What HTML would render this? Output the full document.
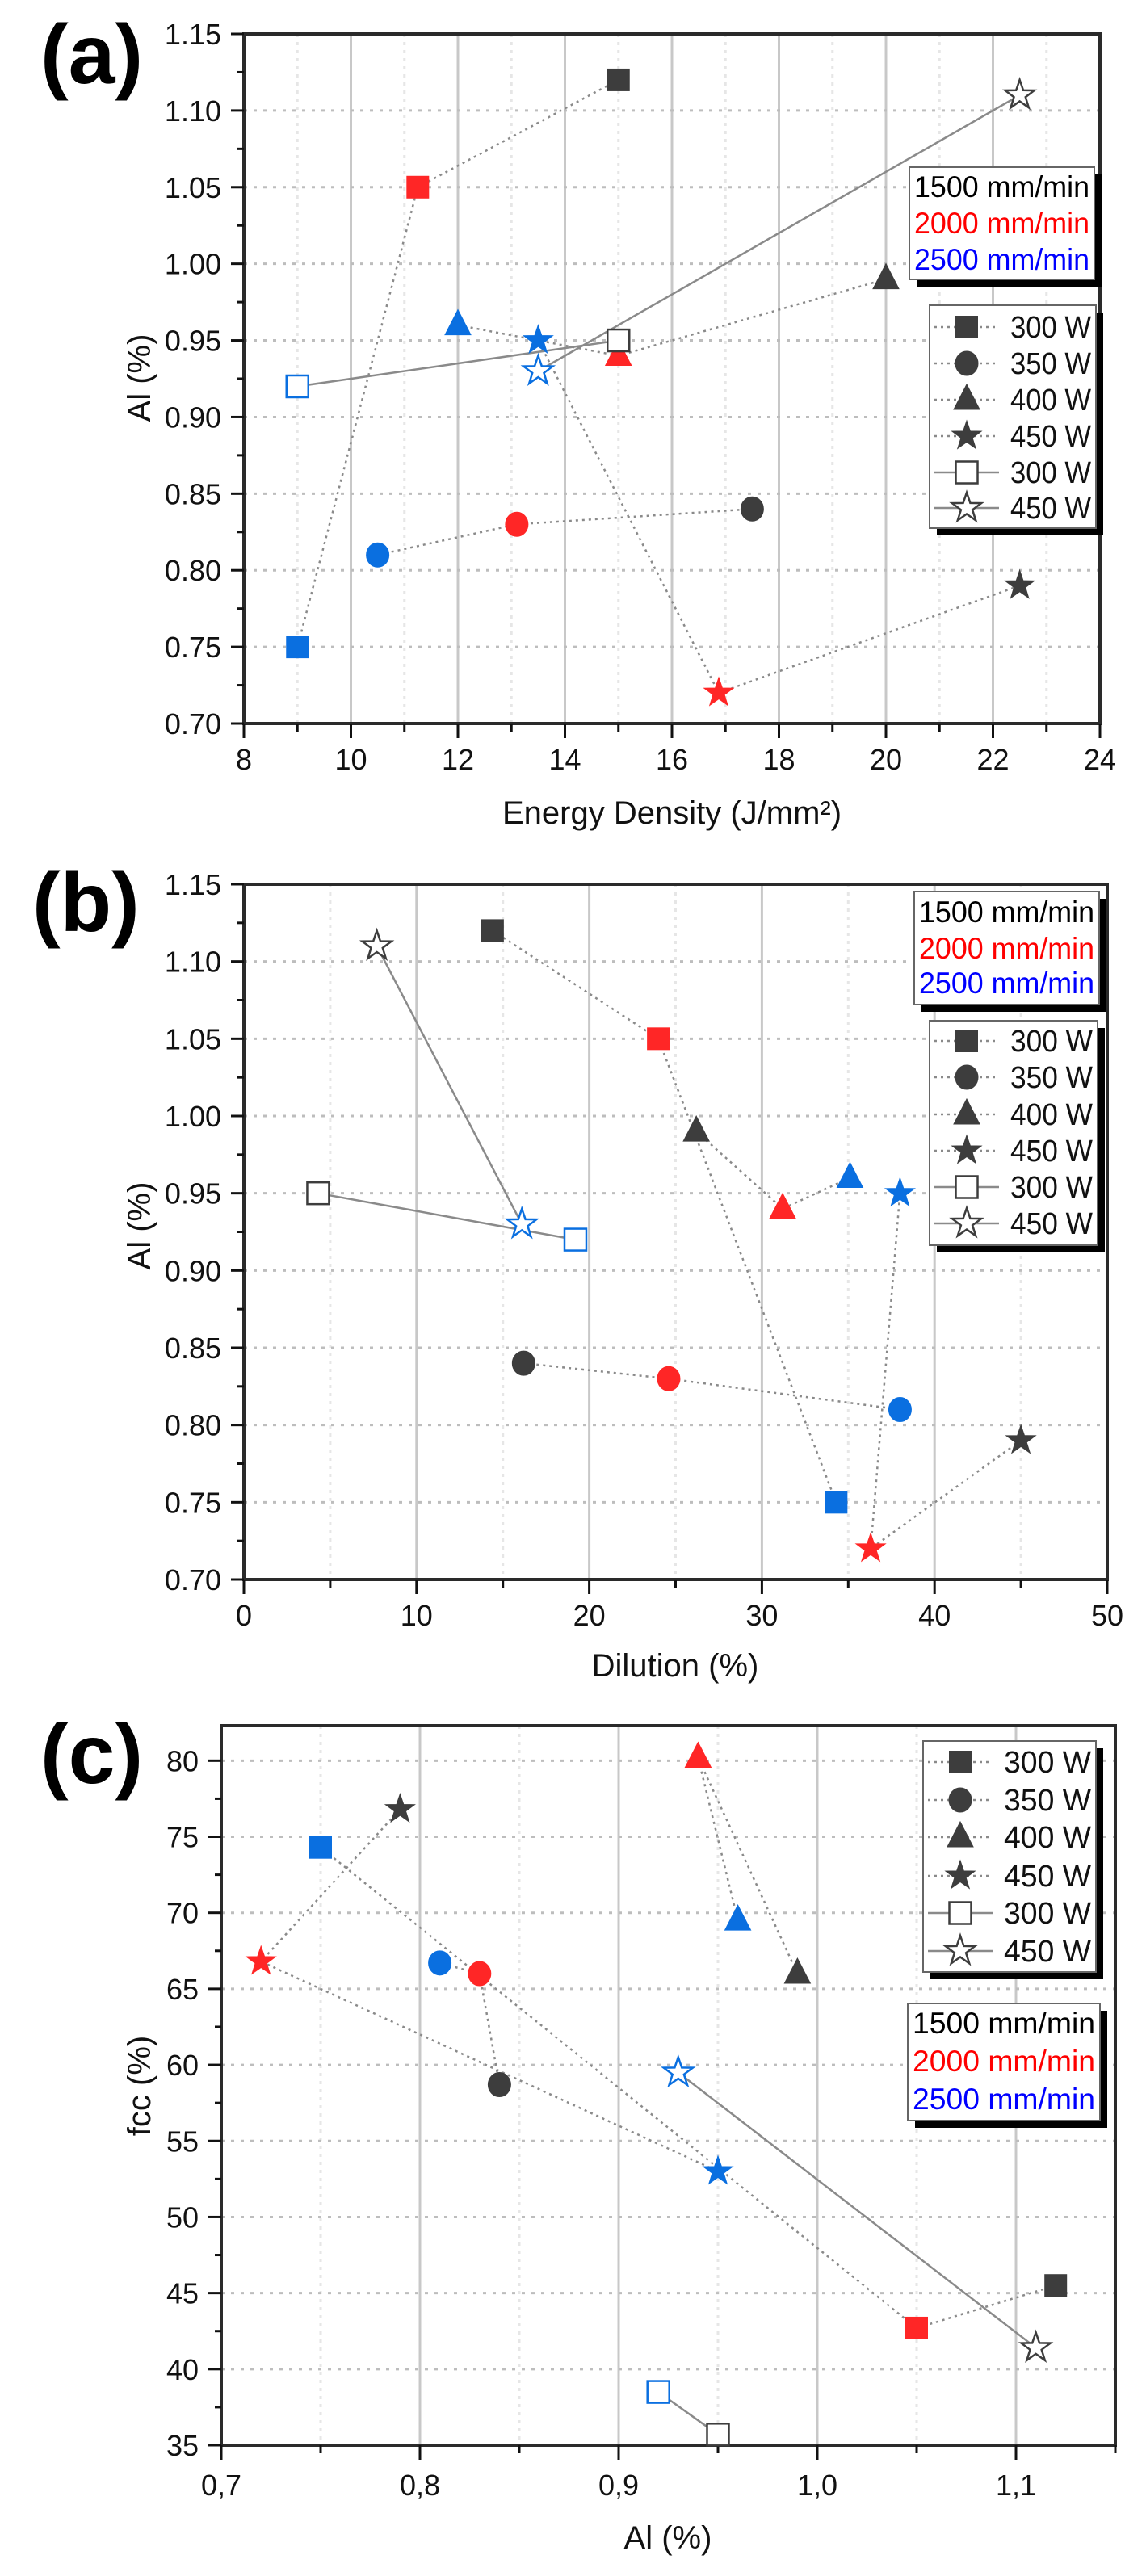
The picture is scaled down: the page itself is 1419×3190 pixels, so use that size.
<!DOCTYPE html>
<html><head><meta charset="utf-8">
<style>
html,body{margin:0;padding:0;background:#fff;}
svg{display:block;font-family:"Liberation Sans",sans-serif;}
</style></head>
<body>
<svg id="fig" width="1419" height="3190" viewBox="0 0 1419 3190" xmlns="http://www.w3.org/2000/svg"></svg>
<script>
// ---------- DATA (panel a: Al vs Energy Density) ----------
const aTicksX = [8,10,12,14,16,18,20,22,24];
const aTicksY = ["0.70","0.75","0.80","0.85","0.90","0.95","1.00","1.05","1.10","1.15"];
const aSquareX = [15, 11.25, 9];      const aSquareY = [1.12, 1.05, 0.75];
const aCircleX = [17.5, 13.1, 10.5];  const aCircleY = [0.84, 0.83, 0.81];
const aTriX = [20, 15, 12];           const aTriY = [0.99, 0.94, 0.96];
const aStarX = [22.5, 16.875, 13.5];  const aStarY = [0.79, 0.72, 0.95];
const aOpenSqX = [15, 9];             const aOpenSqY = [0.95, 0.92];
const aOpenStarX = [22.5, 13.5];      const aOpenStarY = [1.11, 0.93];
// ---------- DATA (panel b: Al vs Dilution) ----------
const bTicksX = [0,10,20,30,40,50];
const bTicksY = ["0.70","0.75","0.80","0.85","0.90","0.95","1.00","1.05","1.10","1.15"];
const bSquareX = [14.4, 24, 34.3];    const bSquareY = [1.12, 1.05, 0.75];
const bCircleX = [16.2, 24.6, 38];    const bCircleY = [0.84, 0.83, 0.81];
const bTriX = [26.2, 31.2, 35.1];     const bTriY = [0.99, 0.94, 0.96];
const bStarX = [45, 36.3, 38];        const bStarY = [0.79, 0.72, 0.95];
const bOpenSqX = [4.3, 19.2];         const bOpenSqY = [0.95, 0.92];
const bOpenStarX = [7.7, 16.1];       const bOpenStarY = [1.11, 0.93];
// ---------- DATA (panel c: fcc vs Al) ----------
const cTicksX = ["0,7","0,8","0,9","1,0","1,1"];
const cTicksY = [35,40,45,50,55,60,65,70,75,80];
const cSquareX = [1.12, 1.05, 0.75];  const cSquareY = [45.5, 42.7, 74.3];
const cCircleX = [0.84, 0.83, 0.81];  const cCircleY = [58.7, 66, 66.7];
const cTriX = [0.99, 0.94, 0.96];     const cTriY = [66, 80.2, 69.5];
const cStarX = [0.79, 0.72, 0.95];    const cStarY = [76.8, 66.8, 53];
const cOpenSqX = [0.95, 0.92];        const cOpenSqY = [35.7, 38.5];
const cOpenStarX = [1.11, 0.93];      const cOpenStarY = [41.4, 59.5];
const speeds = ["1500 mm/min","2000 mm/min","2500 mm/min"];
const powers = ["300 W","350 W","400 W","450 W","300 W","450 W"];

const COLORS = ['#3d3d3d','#ff2626','#0a6fe0'];
const SPEEDTXT = ['#000','#ff0000','#0000ff'];
const NS = "http://www.w3.org/2000/svg";
const svg = document.getElementById('fig');
function el(tag, attrs, parent){ const e=document.createElementNS(NS,tag); for(const k in attrs) e.setAttribute(k,attrs[k]); (parent||svg).appendChild(e); return e; }

function marker(g, type, cx, cy, color, open){
  let e;
  const fill = open ? '#fff' : color;
  const st = open ? {stroke:color,'stroke-width':2.5} : {stroke:color,'stroke-width':1};
  if(type==='sq'){ e=el('rect',Object.assign({x:cx-13.5,y:cy-13.5,width:27,height:27,fill:fill},st),g); }
  else if(type==='ci'){ e=el('ellipse',Object.assign({cx:cx,cy:cy,rx:14,ry:15,fill:fill},st),g); }
  else if(type==='tr'){ e=el('polygon',Object.assign({points:`${cx},${cy-19} ${cx+16},${cy+12} ${cx-16},${cy+12}`,fill:fill},st),g); }
  else { let p=[]; for(let i=0;i<10;i++){ const r=i%2?7.5:19; const a=-Math.PI/2+i*Math.PI/5; p.push((cx+r*Math.cos(a)).toFixed(1)+','+(cy+r*Math.sin(a)).toFixed(1)); }
    e=el('polygon',Object.assign({points:p.join(' '),fill:fill},st),g); }
  return e;
}

function panel(cfg){
  const g = el('g',{});
  
  
  const L=cfg.left,R=cfg.right,T=cfg.top,B=cfg.bottom;
  const sx = v => L + (v-cfg.xmin)/(cfg.xmax-cfg.xmin)*(R-L);
  const sy = v => B - (v-cfg.ymin)/(cfg.ymax-cfg.ymin)*(B-T);
  for(let v=cfg.xmin; v<=cfg.xmax+1e-9; v+=cfg.xminor){
    const isMaj = Math.abs(Math.round((v-cfg.xmin)/cfg.xmajor)*cfg.xmajor-(v-cfg.xmin))<1e-6;
    if(Math.abs(v-cfg.xmin)<1e-9||Math.abs(v-cfg.xmax)<1e-9) continue;
    const gl=el('line',{x1:sx(v),x2:sx(v),y1:T,y2:B,stroke:isMaj?'#c8c8c8':'#e6e6e6','stroke-width':3,'stroke-dasharray':isMaj?'none':'4,6'},g);
    
    
  }
  cfg.ticksY.forEach(t=>{ const v=+String(t).replace(',','.'); if(v<=cfg.ymin||v>=cfg.ymax) return;
    const gl=el('line',{x1:L,x2:R,y1:sy(v),y2:sy(v),stroke:'#bdbdbd','stroke-width':3,'stroke-dasharray':'4,8'},g);
    
    
  });
  const fr=el('rect',{x:L,y:T,width:R-L,height:B-T,fill:'none',stroke:'#2a2a2a','stroke-width':4},g);
  
  
  for(let v=cfg.xmin; v<=cfg.xmax+1e-9; v+=cfg.xminor){
    const isMaj = Math.abs(Math.round((v-cfg.xmin)/cfg.xmajor)*cfg.xmajor-(v-cfg.xmin))<1e-6;
    el('line',{x1:sx(v),x2:sx(v),y1:B,y2:B+(isMaj?18:10),stroke:'#111','stroke-width':3},g);
  }
  cfg.ticksX.forEach(t=>{ const v=+String(t).replace(',','.');
    const tx=el('text',{x:sx(v),y:cfg.xlabY,'font-size':36,'text-anchor':'middle',fill:'#111'},g); tx.textContent=t;
    
    
  });
  cfg.ticksY.forEach((t,i)=>{ const v=+String(t).replace(',','.');
    el('line',{x1:L-16,x2:L,y1:sy(v),y2:sy(v),stroke:'#111','stroke-width':3},g);
    if(i<cfg.ticksY.length-1){ const nv=+String(cfg.ticksY[i+1]).replace(',','.'); el('line',{x1:L-8,x2:L,y1:sy((v+nv)/2),y2:sy((v+nv)/2),stroke:'#111','stroke-width':3},g);}
    const ty=el('text',{x:L-28,y:sy(v)+13,'font-size':36,'text-anchor':'end',fill:'#111'},g); ty.textContent=t;
    
    
  });
  const xt=el('text',{x:cfg.xtX,y:cfg.xtY,'font-size':40,'text-anchor':'middle',fill:'#111'},g); xt.textContent=cfg.xtitle;
  
  
  const yt=el('text',{x:0,y:0,'font-size':40,'text-anchor':'middle',fill:'#111',transform:`translate(${cfg.ytX},${cfg.ytY}) rotate(-90)`},g); yt.textContent=cfg.ytitle;
  
  
  const pl=el('text',{x:cfg.lblX,y:cfg.lblY,'font-size':104,'font-weight':'bold',fill:'#000'},g); pl.textContent=cfg.label;
  
  
  cfg.series.forEach(s=>{
    const pts=s.x.map((v,i)=>sx(v).toFixed(1)+','+sy(s.y[i]).toFixed(1)).join(' ');
    const ln=el('polyline',{points:pts,fill:'none',stroke:'#8a8a8a','stroke-width':2.5,'stroke-dasharray':s.open?'none':'3,5'},g);
    
    
  });
  cfg.series.forEach(s=>{
    s.x.forEach((v,i)=>{
      const col = s.open ? (i===0?COLORS[0]:COLORS[2]) : COLORS[i];
      const m=marker(g,s.type,sx(v),sy(s.y[i]),col,s.open);
      
      
    });
  });
  const sl=cfg.speedLeg;
  const sg=el('g',{},g);
  
  
  el('rect',{x:sl.x+9,y:sl.y+9,width:sl.w,height:sl.h,fill:'#000'},sg);
  el('rect',{x:sl.x,y:sl.y,width:sl.w,height:sl.h,fill:'#fff',stroke:'#666','stroke-width':2},sg);
  speeds.forEach((t,i)=>{ const tx=el('text',{x:sl.x+6,y:sl.ys[i]+13,'font-size':37,fill:SPEEDTXT[i],textLength:sl.w-12,lengthAdjust:'spacingAndGlyphs'},sg); tx.textContent=t;
    
    
  });
  const pL=cfg.powLeg;
  const pg=el('g',{},g);
  
  
  el('rect',{x:pL.x+9,y:pL.y+9,width:pL.w,height:pL.h,fill:'#000'},pg);
  el('rect',{x:pL.x,y:pL.y,width:pL.w,height:pL.h,fill:'#fff',stroke:'#666','stroke-width':2},pg);
  const types=['sq','ci','tr','st','sq','st'];
  powers.forEach((t,i)=>{ const yy=pL.ys[i]; const open=i>=4;
    el('line',{x1:pL.x+6,x2:pL.x+86,y1:yy,y2:yy,stroke:'#8a8a8a','stroke-width':2.5,'stroke-dasharray':open?'none':'3,5'},pg);
    marker(pg,types[i],pL.x+46,yy,'#3d3d3d',open);
    const tx=el('text',{x:pL.x+100,y:yy+13,'font-size':38,fill:'#111',textLength:pL.w-106,lengthAdjust:'spacingAndGlyphs'},pg); tx.textContent=t;
    
    
  });
}

panel({name:'panel-a-chart',label:'(a)',lblX:50,lblY:103,left:302,right:1362,top:42,bottom:896,
  xmin:8,xmax:24,xmajor:2,xminor:1,ymin:0.70,ymax:1.15,ticksX:aTicksX,ticksY:aTicksY,xlabY:953,
  xtitle:'Energy Density (J/mm²)',xtX:832,xtY:1020,ytitle:'Al (%)',ytX:186,ytY:468,
  speedLeg:{x:1126,y:207,w:229,h:139,ys:[231,276,321]},
  powLeg:{x:1151,y:378,w:206,h:276,ys:[405,450,495,540,585,629]},
  series:[{name:'square-300w',type:'sq',x:aSquareX,y:aSquareY},{name:'circle-350w',type:'ci',x:aCircleX,y:aCircleY},
    {name:'triangle-400w',type:'tr',x:aTriX,y:aTriY},{name:'star-450w',type:'st',x:aStarX,y:aStarY},
    {name:'open-square-300w',type:'sq',open:true,x:aOpenSqX,y:aOpenSqY},{name:'open-star-450w',type:'st',open:true,x:aOpenStarX,y:aOpenStarY}]});

panel({name:'panel-b-chart',label:'(b)',lblX:40,lblY:1153,left:302,right:1371,top:1095,bottom:1956,
  xmin:0,xmax:50,xmajor:10,xminor:5,ymin:0.70,ymax:1.15,ticksX:bTicksX,ticksY:bTicksY,xlabY:2013,
  xtitle:'Dilution (%)',xtX:836,xtY:2076,ytitle:'Al (%)',ytX:186,ytY:1518,
  speedLeg:{x:1132,y:1104,w:229,h:140,ys:[1129,1174,1217]},
  powLeg:{x:1151,y:1264,w:208,h:278,ys:[1289,1334,1380,1425,1470,1515]},
  series:[{name:'square-300w',type:'sq',x:bSquareX,y:bSquareY},{name:'circle-350w',type:'ci',x:bCircleX,y:bCircleY},
    {name:'triangle-400w',type:'tr',x:bTriX,y:bTriY},{name:'star-450w',type:'st',x:bStarX,y:bStarY},
    {name:'open-square-300w',type:'sq',open:true,x:bOpenSqX,y:bOpenSqY},{name:'open-star-450w',type:'st',open:true,x:bOpenStarX,y:bOpenStarY}]});

panel({name:'panel-c-chart',label:'(c)',lblX:50,lblY:2208,left:274,right:1381,top:2137,bottom:3028,
  xmin:0.7,xmax:1.15,xmajor:0.1,xminor:0.05,ymin:35,ymax:82.3,ticksX:cTicksX,ticksY:cTicksY,xlabY:3090,
  xtitle:'Al (%)',xtX:827,xtY:3156,ytitle:'fcc (%)',ytX:186,ytY:2583,
  speedLeg:{x:1124,y:2481,w:238,h:145,ys:[2505,2552,2599]},
  powLeg:{x:1143,y:2156,w:214,h:286,ys:[2182,2229,2275,2323,2369,2416]},
  series:[{name:'square-300w',type:'sq',x:cSquareX,y:cSquareY},{name:'circle-350w',type:'ci',x:cCircleX,y:cCircleY},
    {name:'triangle-400w',type:'tr',x:cTriX,y:cTriY},{name:'star-450w',type:'st',x:cStarX,y:cStarY},
    {name:'open-square-300w',type:'sq',open:true,x:cOpenSqX,y:cOpenSqY},{name:'open-star-450w',type:'st',open:true,x:cOpenStarX,y:cOpenStarY}]});
</script>
</body></html>
